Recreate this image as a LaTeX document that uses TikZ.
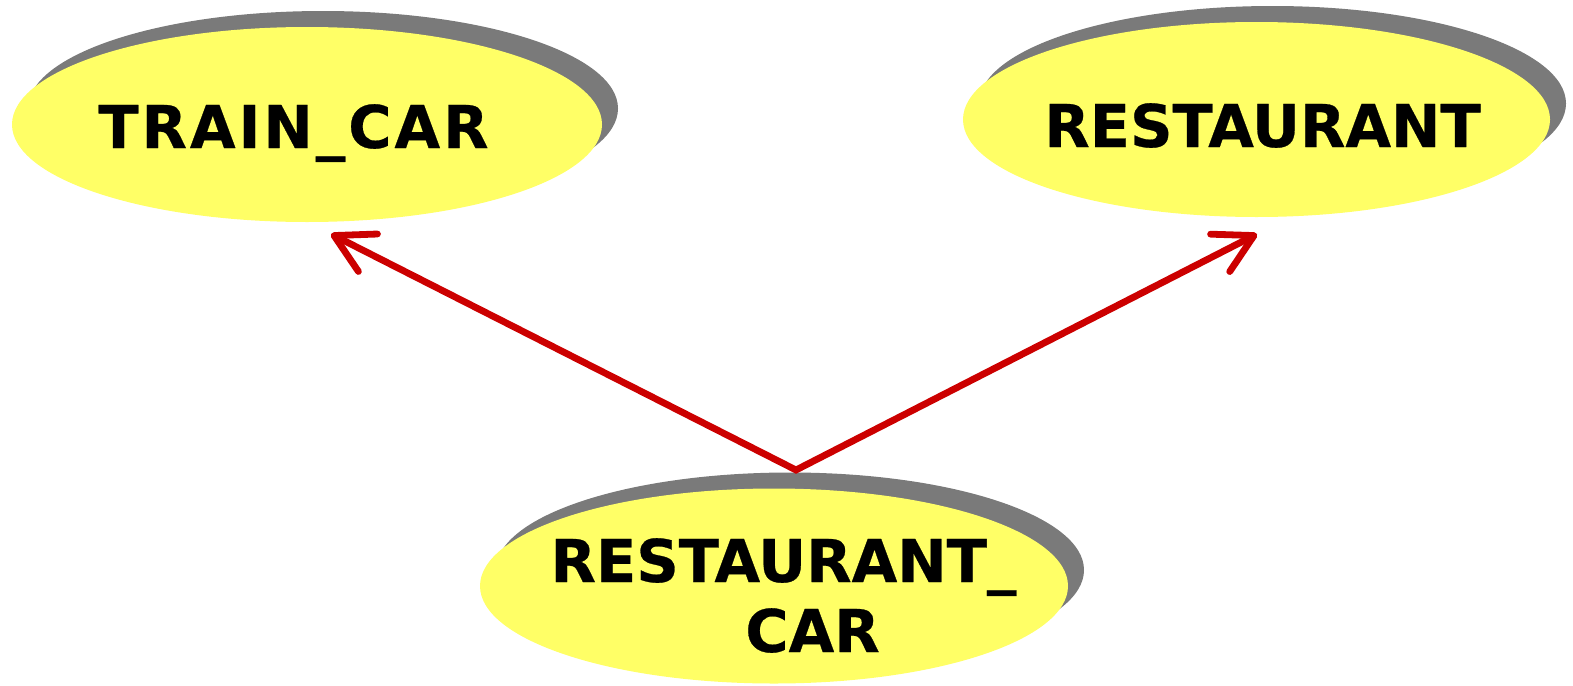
\documentclass[tikz,border=0pt]{standalone}
\usepackage{fontspec}
\setmainfont{DejaVu Sans}[BoldFeatures={FakeBold=0.45}]
\usetikzlibrary{shapes.geometric,shadows,arrows.meta}
\definecolor{bubble}{HTML}{FFFF66}
\definecolor{linkred}{HTML}{CC0000}
\begin{document}
\begin{tikzpicture}[x=0.5pt,y=-0.5pt,
  entity/.style={ellipse, fill=bubble, minimum width=295pt, minimum height=97.5pt,
    inner sep=0pt,
    drop shadow={shadow xshift=8pt, shadow yshift=8pt, opacity=1, fill=black!52}},
  entitytext/.style={font=\bfseries\fontsize{29.5}{35}\selectfont, anchor=base,
    inner sep=0pt},
  isa/.style={draw=linkred, line width=3.4pt, line join=miter,
    >={Straight Barb[length=19pt,width=21pt,round]}, <->}]
  \useasboundingbox (0,0) rectangle (1573,685);

  % entity ellipses
  \node[entity] (tc) at (307,124.5) {};
  \node[entity, minimum width=293.5pt] (rs) at (1256.5,119.5) {};
  \node[entity, minimum width=294pt] (rc) at (774,586) {};

  % entity names
  \node[entitytext] (tct) at (293.5,148) {\addfontfeature{LetterSpace=5}TRAIN\_CAR};
  \node[entitytext] (rst) at (1262.5,147) {RESTAURANT};
  \node[entitytext] (rct1) at (783.5,582) {RESTAURANT\_};
  \node[entitytext] (rct2) at (812.5,652) {CAR};

  % generalisation links
  \coordinate (join) at (796,470);
  \coordinate (tcend) at (331,234);
  \coordinate (rsend) at (1257,234);
  \draw[isa] (tcend) -- (join) -- (rsend);
\end{tikzpicture}
\end{document}
